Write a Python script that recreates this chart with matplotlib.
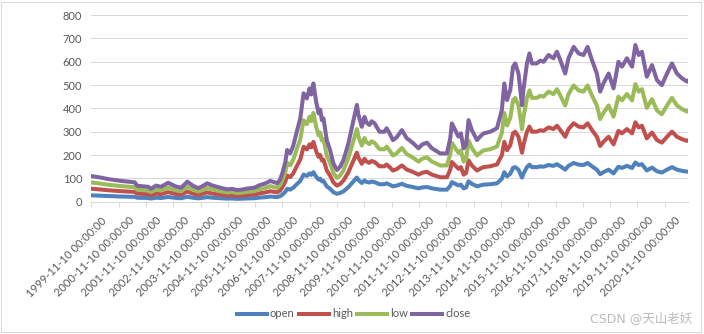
import matplotlib
matplotlib.use("Agg")
import matplotlib.pyplot as plt
import matplotlib.dates as mdates
import matplotlib.transforms as mtransforms
from matplotlib.patches import Rectangle
import numpy as np
import pandas as pd

plt.rcParams["font.family"] = ["Lato", "DejaVu Sans"]

# sample dates as decimal years, 1999-11 .. 2021-09
YEARS = [
    1999.86, 2000.18, 2000.47, 2000.95, 2001.45, 2001.52, 2001.57, 2001.94, 2002.04, 2002.23,
    2002.41, 2002.67, 2002.96, 2003.15, 2003.37, 2003.59, 2003.77, 2003.95, 2004.10, 2004.28,
    2004.46, 2004.65, 2004.83, 2005.01, 2005.20, 2005.38, 2005.60, 2005.82, 2006.04, 2006.22,
    2006.41, 2006.55, 2006.66, 2006.77, 2006.85, 2006.96, 2007.03, 2007.14, 2007.25, 2007.38,
    2007.51, 2007.63, 2007.75, 2007.85, 2007.91, 2007.99, 2008.09, 2008.18, 2008.24, 2008.30,
    2008.36, 2008.48, 2008.60, 2008.72, 2008.85, 2008.97, 2009.09, 2009.27, 2009.46, 2009.58,
    2009.64, 2009.76, 2009.86, 2009.93, 2010.04, 2010.12, 2010.23, 2010.41, 2010.59, 2010.67,
    2010.78, 2010.90, 2011.03, 2011.23, 2011.41, 2011.53, 2011.65, 2011.84, 2011.97, 2012.15,
    2012.33, 2012.49, 2012.63, 2012.88, 2013.00, 2013.06, 2013.18, 2013.30, 2013.39, 2013.49,
    2013.58, 2013.67, 2013.79, 2013.98, 2014.10, 2014.22, 2014.46, 2014.71, 2014.89, 2014.98,
    2015.08, 2015.20, 2015.30, 2015.38, 2015.50, 2015.63, 2015.68, 2015.81, 2015.90, 2015.99,
    2016.17, 2016.30, 2016.42, 2016.60, 2016.78, 2016.91, 2017.03, 2017.21, 2017.33, 2017.52,
    2017.70, 2017.88, 2018.03, 2018.19, 2018.37, 2018.49, 2018.61, 2018.80, 2018.98, 2019.16,
    2019.29, 2019.47, 2019.66, 2019.78, 2019.90, 2020.02, 2020.20, 2020.39, 2020.57, 2020.75,
    2020.94, 2021.12, 2021.30, 2021.49, 2021.67, 2021.72,
]

OPEN = [
    27.5, 26.0, 24.3, 22.3, 20.8, 17.5, 17.0, 16.0, 13.8, 17.3,
    16.0, 20.3, 16.3, 15.0, 21.5, 17.0, 14.5, 17.0, 19.8, 17.5,
    16.0, 14.5, 13.3, 13.8, 12.5, 13.0, 14.3, 15.0, 18.0, 19.5,
    22.3, 21.0, 19.8, 23.8, 30.5, 42.5, 55.5, 52.0, 59.8, 75.0,
    89.3, 116.3, 110.8, 121.5, 115.0, 126.8, 107.3, 94.8, 98.8, 87.5,
    89.3, 66.0, 55.5, 41.3, 34.0, 37.5, 44.8, 62.5, 87.5, 103.8,
    93.0, 80.3, 91.0, 85.0, 82.3, 86.3, 84.0, 75.0, 75.0, 78.8,
    73.3, 66.0, 68.8, 76.8, 68.0, 65.5, 62.5, 57.3, 61.3, 63.3,
    57.3, 54.5, 51.8, 51.8, 68.0, 84.0, 76.8, 69.8, 73.3, 57.3,
    60.8, 87.5, 76.8, 66.0, 70.0, 73.3, 75.0, 78.8, 98.3, 126.8,
    109.0, 119.8, 144.8, 148.3, 137.5, 103.5, 119.8, 148.3, 159.0, 148.3,
    148.3, 151.3, 150.0, 157.3, 153.8, 160.8, 151.8, 137.5, 153.8, 166.0,
    159.0, 157.3, 166.0, 151.8, 137.5, 118.0, 126.8, 137.5, 121.5, 150.0,
    144.8, 153.8, 144.8, 168.0, 157.3, 160.8, 134.0, 146.5, 130.5, 125.0,
    137.5, 148.3, 137.5, 132.3, 128.8, 130.0,
]

HIGH = [
    28.2, 26.7, 24.9, 22.9, 21.3, 17.9, 17.4, 16.4, 14.1, 17.7,
    16.4, 20.8, 16.7, 15.4, 22.0, 17.4, 14.9, 17.4, 20.3, 17.9,
    16.4, 14.9, 13.6, 14.1, 12.8, 13.3, 14.7, 15.4, 18.5, 20.0,
    22.9, 21.5, 20.3, 24.4, 31.3, 43.6, 56.9, 53.3, 61.3, 76.9,
    91.5, 119.2, 113.6, 124.5, 117.9, 130.0, 110.0, 97.2, 101.3, 89.7,
    91.5, 67.7, 56.9, 42.3, 34.9, 38.4, 45.9, 64.1, 89.7, 106.4,
    95.3, 82.3, 93.3, 87.1, 84.4, 88.5, 86.1, 76.9, 76.9, 80.8,
    75.1, 67.7, 70.5, 78.7, 69.7, 67.1, 64.1, 58.7, 62.8, 64.9,
    58.7, 55.9, 53.1, 53.1, 69.7, 86.1, 78.7, 71.5, 75.1, 58.7,
    62.3, 89.7, 78.7, 67.7, 71.8, 75.1, 76.9, 80.8, 100.8, 130.0,
    111.7, 122.8, 148.4, 152.0, 140.9, 106.1, 122.8, 152.0, 163.0, 152.0,
    152.0, 155.1, 153.8, 161.2, 157.6, 164.8, 155.6, 140.9, 157.6, 170.2,
    163.0, 161.2, 170.2, 155.6, 140.9, 121.0, 130.0, 140.9, 124.5, 153.8,
    148.4, 157.6, 148.4, 172.2, 161.2, 164.8, 137.4, 150.2, 133.8, 128.1,
    140.9, 152.0, 140.9, 135.6, 132.0, 133.3,
]

LOW = [
    26.8, 25.4, 23.7, 21.7, 20.3, 17.1, 16.6, 15.6, 13.5, 16.9,
    15.6, 19.8, 15.9, 14.6, 21.0, 16.6, 14.1, 16.6, 19.3, 17.1,
    15.6, 14.1, 13.0, 13.5, 12.2, 12.7, 13.9, 14.6, 17.5, 19.0,
    21.7, 20.5, 19.3, 23.2, 29.7, 41.4, 54.1, 50.7, 58.3, 73.1,
    87.1, 113.4, 108.0, 118.5, 112.1, 123.6, 104.6, 92.4, 96.3, 85.3,
    87.1, 64.4, 54.1, 40.3, 33.2, 36.6, 43.7, 60.9, 85.3, 101.2,
    90.7, 78.3, 88.7, 82.9, 80.2, 84.1, 81.9, 73.1, 73.1, 76.8,
    71.5, 64.4, 67.1, 74.9, 66.3, 63.9, 60.9, 55.9, 59.8, 61.7,
    55.9, 53.1, 50.5, 50.5, 66.3, 81.9, 74.9, 68.1, 71.5, 55.9,
    59.3, 85.3, 74.9, 64.4, 68.3, 71.5, 73.1, 76.8, 95.8, 123.6,
    106.3, 116.8, 141.2, 144.6, 134.1, 100.9, 116.8, 144.6, 155.0, 144.6,
    144.6, 147.5, 146.3, 153.4, 150.0, 156.8, 148.0, 134.1, 150.0, 161.9,
    155.0, 153.4, 161.9, 148.0, 134.1, 115.1, 123.6, 134.1, 118.5, 146.3,
    141.2, 150.0, 141.2, 163.8, 153.4, 156.8, 130.7, 142.8, 127.2, 121.9,
    134.1, 144.6, 134.1, 129.0, 125.6, 126.8,
]

CLOSE = [
    27.4, 25.9, 24.2, 22.2, 20.7, 17.4, 17.0, 16.0, 13.8, 17.2,
    16.0, 20.2, 16.2, 15.0, 21.4, 17.0, 14.5, 17.0, 19.7, 17.4,
    16.0, 14.5, 13.3, 13.7, 12.5, 13.0, 14.2, 15.0, 17.9, 19.4,
    22.2, 21.0, 19.7, 23.7, 30.4, 42.3, 55.3, 51.8, 59.6, 74.8,
    89.0, 115.9, 110.4, 121.1, 114.6, 126.4, 106.9, 94.5, 98.5, 87.2,
    89.0, 65.8, 55.3, 41.1, 33.9, 37.4, 44.6, 62.3, 87.2, 103.4,
    92.7, 80.0, 90.7, 84.7, 82.0, 86.0, 83.7, 74.8, 74.8, 78.5,
    73.0, 65.8, 68.5, 76.5, 67.8, 65.3, 62.3, 57.1, 61.1, 63.1,
    57.1, 54.3, 51.6, 51.6, 67.8, 83.7, 76.5, 69.5, 73.0, 57.1,
    60.6, 87.2, 76.5, 65.8, 69.8, 73.0, 74.8, 78.5, 98.0, 126.4,
    108.6, 119.4, 144.3, 147.8, 137.0, 103.1, 119.4, 147.8, 158.5, 147.8,
    147.8, 150.8, 149.5, 156.8, 153.3, 160.3, 151.3, 137.0, 153.3, 165.5,
    158.5, 156.8, 165.5, 151.3, 137.0, 117.6, 126.4, 137.0, 121.1, 149.5,
    144.3, 153.3, 144.3, 167.5, 156.8, 160.3, 133.6, 146.0, 130.1, 124.6,
    137.0, 147.8, 137.0, 131.9, 128.4, 129.6,
]

SERIES = ["open", "high", "low", "close"]
COLORS = ["#4F81BD", "#C0504D", "#9BBB59", "#8064A2"]


def year_to_date(y):
    yr = int(y)
    return pd.Timestamp(yr, 1, 1) + pd.Timedelta(days=(y - yr) * 365.25)


dates = [year_to_date(y) for y in YEARS]
# stacked line chart: each series drawn on top of the previous ones
stacked = np.cumsum(np.array([OPEN, HIGH, LOW, CLOSE]), axis=0)

fig = plt.figure(figsize=(7.04, 3.34), dpi=100)
ax = fig.add_axes([0.1297, 0.396, 0.848, 0.559])

for name, color, vals in zip(SERIES, COLORS, stacked):
    ax.plot(dates, vals, color=color, lw=2.9, label=name, solid_joinstyle="round")

ax.set_ylim(0, 800)
ax.set_yticks(range(0, 801, 100))
ax.set_xlim(pd.Timestamp("1999-11-10"), pd.Timestamp("2021-09-20"))
ax.xaxis.set_major_locator(mdates.YearLocator(base=1, month=11, day=10))
ax.xaxis.set_major_formatter(mdates.DateFormatter("%Y-%m-%d %H:%M:%S"))

ax.grid(axis="y", color="#D9D9D9", lw=0.75)
ax.set_axisbelow(True)
for side in ["left", "right", "top"]:
    ax.spines[side].set_visible(False)
ax.spines["bottom"].set_color("#D9D9D9")
ax.spines["bottom"].set_linewidth(0.75)
ax.tick_params(axis="y", length=0, pad=6.5, labelsize=8, labelcolor="#595959")
ax.tick_params(axis="x", length=3.4, width=0.75, color="#D9D9D9", pad=4,
               labelsize=8, labelcolor="#595959")

shift = mtransforms.ScaledTranslation(0.10, -0.03, fig.dpi_scale_trans)
for lbl in ax.get_xticklabels():
    lbl.set_rotation(45)
    lbl.set_ha("right")
    lbl.set_va("top")
    lbl.set_rotation_mode("anchor")
    lbl.set_transform(lbl.get_transform() + shift)

fig.legend(loc="center", bbox_to_anchor=(0.502, 0.06), ncol=4, frameon=False,
           fontsize=8, handlelength=2.7, handletextpad=0.3, columnspacing=0.35,
           labelcolor="#595959")

fig.text(0.984, 0.042, "CSDN @天山老妖", ha="right", va="center", fontsize=9,
         color="#BBBBBB", family=["DejaVu Sans", "Noto Sans CJK SC"])

fig.patches.append(Rectangle((0.0015, 0.005), 0.994, 0.99, transform=fig.transFigure,
                             fill=False, ec="#D9D9D9", lw=0.75))

fig.savefig("out.png", dpi=100)
